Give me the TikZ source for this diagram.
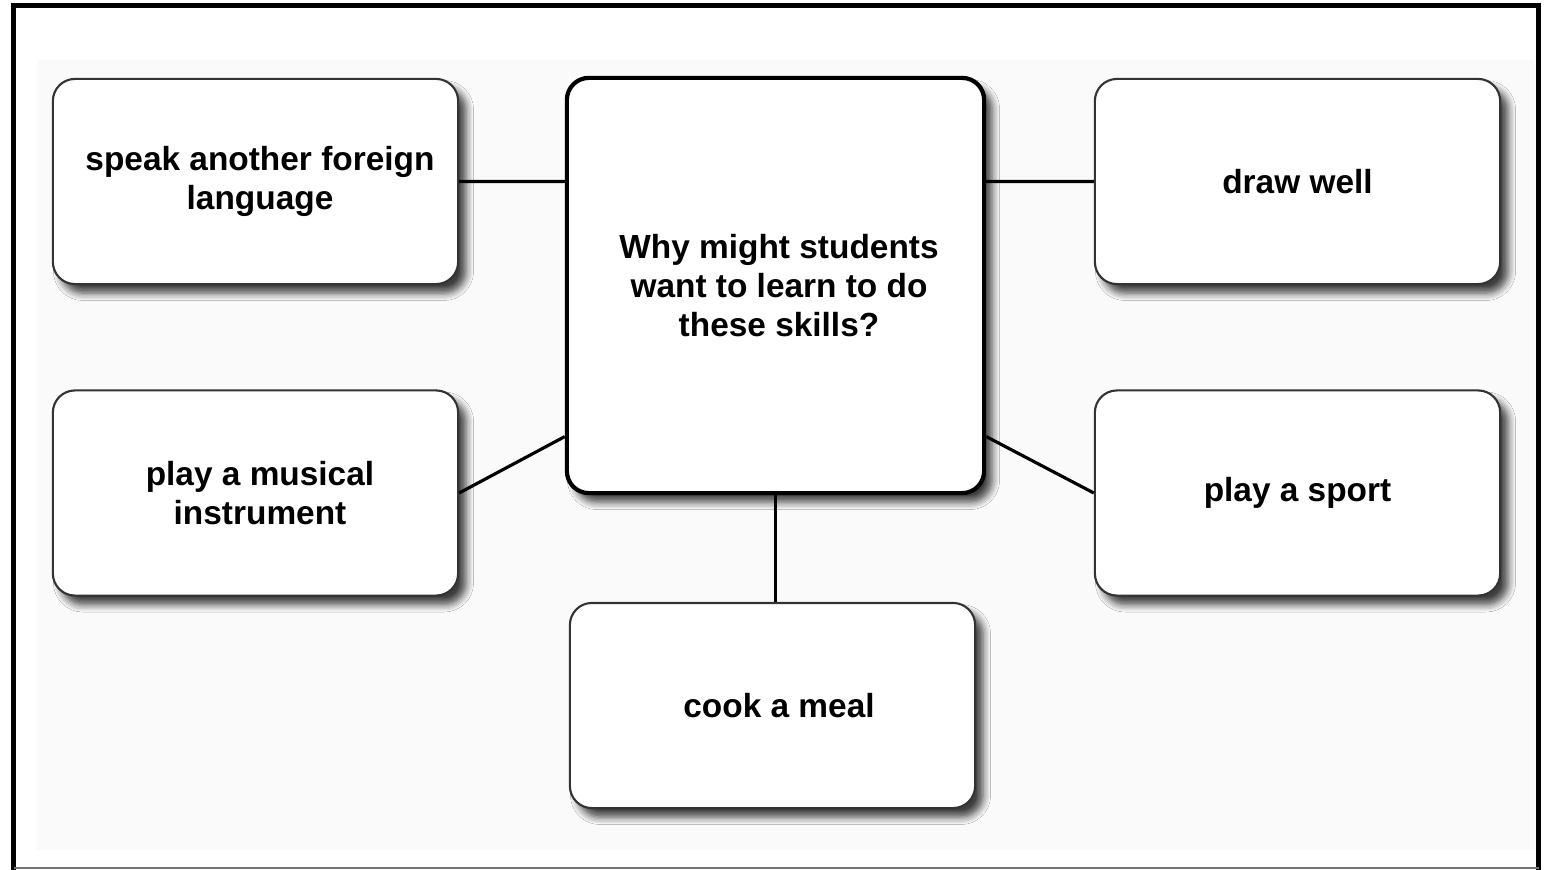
\documentclass[tikz,border=0pt]{standalone}
\usepackage{fontspec}
\setmainfont{Liberation Sans}
\usepackage{tikz}
\usepackage{xcolor}
\usetikzlibrary{positioning,shadows.blur}

\begin{document}
\begin{tikzpicture}
[
x=0.01cm, y=-0.01cm,
box-a/.style={rectangle, rounded corners=2.2mm, draw=black!80, line width=0.6pt, fill=white,
  minimum width=4.05cm, minimum height=2.05cm, inner sep=0pt, align=center,
  font=\fontsize{9.5}{11}\selectfont\bfseries,
  blur shadow={shadow xshift=0.8mm, shadow yshift=-0.9mm, shadow blur steps=6, shadow opacity=75}},
box-b/.style={box-a, draw=black, line width=1.2pt, minimum width=4.17cm, minimum height=4.15cm},
link-a/.style={black, line width=0.9pt}
]

\useasboundingbox (0,0) rectangle (1552,870);
\fill [white] (0,0) rectangle (1552,870);
\fill [black!2] (37,60) rectangle (1535,850);
\draw [black, line width=1.4pt] (13.5,870) -- (13.5,5.5) -- (1538.5,5.5) -- (1538.5,870);
\draw [black!55, line width=0.5pt] (13.5,868) -- (1538.5,868);

\node (ctr)     [box-b] at (775.5,285.5) {\hspace*{0.07cm}Why might students\\\hspace*{0.07cm}want to learn to do\\\hspace*{0.07cm}these skills?};
\node (skill-1) [box-a] at (255.5,181.5) {\hspace*{0.09cm}speak another foreign\\\hspace*{0.09cm}language};
\node (skill-2) [box-a] at (1297.5,181.5) {draw well};
\node (skill-3) [box-a] at (255.5,493)   {\hspace*{0.09cm}play a musical\\\hspace*{0.09cm}instrument};
\node (skill-4) [box-a] at (1297.5,493)  {play a sport};
\node (skill-5) [box-a] at (772.5,705.5) {\hspace*{0.13cm}cook a meal};

\draw [link-a] (skill-1.east) -- ([yshift=1.04cm]ctr.west);
\draw [link-a] (skill-2.west) -- ([yshift=1.04cm]ctr.east);
\draw [link-a] (skill-3.east) -- ([yshift=-1.51cm]ctr.west);
\draw [link-a] (skill-4.west) -- ([yshift=-1.51cm]ctr.east);
\draw [link-a] (ctr.south) -- (ctr.south |- skill-5.north);

\end{tikzpicture}
\end{document}
